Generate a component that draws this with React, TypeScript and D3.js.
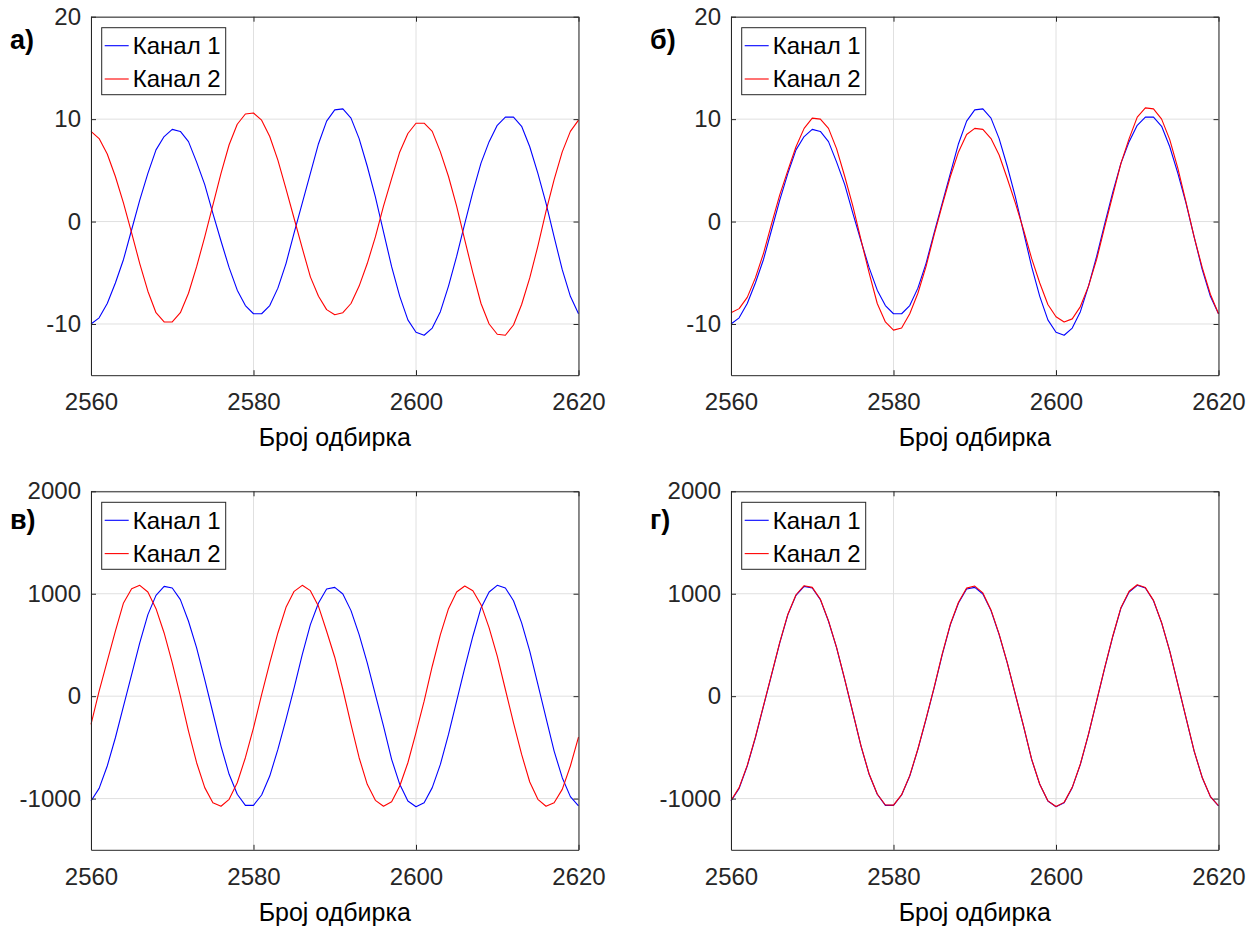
import * as d3 from "d3";
import { useEffect, useRef } from "react";

// sample index axis
const firstSample = 2560;
const lastSample = 2620;
const samples = d3.range(firstSample, lastSample + 1);
const xTicks = [2560, 2580, 2600, 2620];
const yTicksSmall = [-10, 0, 10, 20];
const yTicksLarge = [-1000, 0, 1000, 2000];
const seriesNames = ["Канал 1", "Канал 2"];
const seriesColors = ["#0000ff", "#ff0000"];
const xLabel = "Број одбирка";

// channel 1, panels а) and б)
const ch1Low = [
  -10.0, -9.4, -8.0, -6.0, -3.7, -0.8, 2.1, 4.7, 7.0, 8.3,
  9.0, 8.8, 7.8, 5.8, 3.6, 0.8, -1.9, -4.5, -6.7, -8.2,
  -9.0, -9.0, -8.2, -6.5, -4.1, -1.1, 1.8, 4.7, 7.6, 9.8,
  10.9, 11.0, 10.1, 8.1, 5.4, 2.4, -1.0, -4.4, -7.3, -9.6,
  -10.8, -11.1, -10.4, -8.8, -6.3, -3.4, -0.2, 2.9, 5.7, 7.8,
  9.4, 10.2, 10.2, 9.3, 7.3, 4.7, 1.8, -1.5, -4.7, -7.3, -9.0,
];

// channel 2, panel а)
const ch2Raw = [
  8.8, 8.1, 6.6, 4.4, 1.8, -1.1, -4.1, -6.8, -8.9, -9.8,
  -9.8, -8.9, -7.0, -4.4, -1.5, 1.6, 4.7, 7.5, 9.5, 10.5,
  10.6, 9.9, 8.3, 6.0, 3.2, 0.3, -2.6, -5.4, -7.3, -8.6,
  -9.1, -8.9, -8.0, -6.3, -4.1, -1.5, 1.5, 4.2, 6.8, 8.6,
  9.6, 9.6, 8.8, 6.8, 4.4, 1.5, -1.8, -5.0, -8.0, -10.0,
  -11.0, -11.1, -10.1, -8.1, -5.5, -2.4, 1.0, 4.1, 6.8, 8.8, 9.9,
];

// channel 2, panel б)
const ch2Aligned = [
  -8.9, -8.5, -7.4, -5.5, -3.1, -0.2, 2.6, 5.0, 7.3, 9.1,
  10.1, 10.0, 9.1, 7.1, 4.4, 1.5, -1.8, -5.0, -8.0, -9.8,
  -10.6, -10.4, -9.0, -7.0, -4.4, -1.3, 1.6, 4.4, 6.8, 8.5,
  9.1, 9.0, 8.1, 6.5, 4.2, 1.8, -0.8, -3.6, -6.0, -8.1,
  -9.3, -9.8, -9.5, -8.3, -6.3, -3.7, -0.5, 2.6, 5.7, 8.1,
  10.2, 11.1, 11.0, 10.0, 8.0, 5.2, 1.9, -1.5, -4.5, -7.1, -9.0,
];

// channel 1, panels в) and г)
const ch1High = [
  -1023, -900, -682, -406, -97, 211, 520, 796, 984, 1072,
  1056, 942, 731, 471, 162, -162, -487, -763, -958, -1066,
  -1066, -965, -780, -520, -227, 81, 406, 698, 910, 1046,
  1062, 997, 835, 601, 325, 16, -292, -617, -861, -1023,
  -1079, -1040, -893, -666, -374, -49, 276, 585, 861, 1017,
  1082, 1056, 932, 715, 439, 114, -211, -536, -796, -981, -1072,
];

// channel 2, panel в)
const ch2HighRaw = [
  -276, 49, 341, 634, 910, 1049, 1082, 1017, 854, 617,
  325, 0, -341, -650, -893, -1040, -1075, -1007, -845, -601,
  -309, 16, 325, 617, 867, 1023, 1082, 1030, 877, 634,
  380, 65, -276, -601, -861, -1017, -1075, -1030, -877, -650,
  -357, -49, 292, 601, 854, 1017, 1075, 1030, 893, 666,
  390, 65, -260, -569, -838, -1007, -1075, -1040, -910, -682, -400,
];

// channel 2, panel г)
const ch2HighAligned = [
  -1018, -893, -676, -400, -92, 216, 525, 800, 990, 1078,
  1062, 946, 735, 474, 164, -160, -485, -760, -955, -1063,
  -1064, -962, -776, -516, -222, 86, 412, 704, 917, 1055,
  1075, 1008, 842, 605, 328, 18, -290, -615, -860, -1022,
  -1077, -1037, -890, -662, -370, -45, 281, 590, 866, 1024,
  1088, 1060, 935, 717, 440, 115, -210, -535, -795, -980, -1070,
];

const panels = [
  { tag: "а)", series: [ch1Low, ch2Raw], yDomain: [-15, 20], yTicks: yTicksSmall, left: 91, top: 16.7, tagY: 49 },
  { tag: "б)", series: [ch1Low, ch2Aligned], yDomain: [-15, 20], yTicks: yTicksSmall, left: 731, top: 16.7, tagY: 49 },
  { tag: "в)", series: [ch1High, ch2HighRaw], yDomain: [-1500, 2000], yTicks: yTicksLarge, left: 91, top: 491.3, tagY: 529 },
  { tag: "г)", series: [ch1High, ch2HighAligned], yDomain: [-1500, 2000], yTicks: yTicksLarge, left: 731, top: 491.3, tagY: 529 },
];

const plotW = 487.5;
const plotH = 358.5;
const font = "'Liberation Sans', Arial, Helvetica, sans-serif";
const axisColor = "#262626";
const gridColor = "#e0e0e0";

export default function App() {
  const ref = useRef<SVGSVGElement>(null);

  useEffect(() => {
    const svg = d3.select(ref.current);
    svg.selectAll("*").remove();

    panels.forEach((p) => {
      const x = d3.scaleLinear().domain([firstSample, lastSample]).range([p.left, p.left + plotW]);
      const y = d3.scaleLinear().domain(p.yDomain).range([p.top + plotH, p.top]);
      const g = svg.append("g");

      // grid
      g.selectAll(".gx").data(xTicks).join("line")
        .attr("x1", (d) => x(d)).attr("x2", (d) => x(d))
        .attr("y1", p.top).attr("y2", p.top + plotH)
        .attr("stroke", gridColor).attr("stroke-width", 1);
      g.selectAll(".gy").data(p.yTicks).join("line")
        .attr("x1", p.left).attr("x2", p.left + plotW)
        .attr("y1", (d) => y(d)).attr("y2", (d) => y(d))
        .attr("stroke", gridColor).attr("stroke-width", 1);

      // signals
      const line = d3.line<number>().x((d, i) => x(samples[i])).y((d) => y(d));
      p.series.forEach((vals, k) => {
        g.append("path")
          .attr("d", line(vals))
          .attr("fill", "none")
          .attr("stroke", seriesColors[k])
          .attr("stroke-width", 1.1)
          .attr("stroke-linejoin", "round");
      });

      // axes, ticks pointing inward on all four sides
      const bottom = g.append("g").attr("transform", `translate(0,${p.top + plotH})`)
        .call(d3.axisBottom(x).tickValues(xTicks).tickSizeInner(-5).tickSizeOuter(0).tickPadding(18).tickFormat((d) => String(d)));
      const left = g.append("g").attr("transform", `translate(${p.left},0)`)
        .call(d3.axisLeft(y).tickValues(p.yTicks).tickSizeInner(-5).tickSizeOuter(0).tickPadding(10).tickFormat((d) => String(d)));
      const top = g.append("g").attr("transform", `translate(0,${p.top})`)
        .call(d3.axisTop(x).tickValues(xTicks).tickSizeInner(-5).tickSizeOuter(0).tickFormat(() => ""));
      const right = g.append("g").attr("transform", `translate(${p.left + plotW},0)`)
        .call(d3.axisRight(y).tickValues(p.yTicks).tickSizeInner(-5).tickSizeOuter(0).tickFormat(() => ""));

      [bottom, left, top, right].forEach((a) => {
        a.select(".domain").attr("stroke", axisColor).attr("stroke-width", 1);
        a.selectAll(".tick line").attr("stroke", axisColor);
        a.selectAll("text").attr("fill", axisColor).attr("font-family", font).attr("font-size", 24);
      });

      // x label
      g.append("text")
        .attr("x", p.left + plotW / 2)
        .attr("y", p.top + plotH + 71)
        .attr("text-anchor", "middle")
        .attr("font-family", font)
        .attr("font-size", 25)
        .attr("fill", "#000")
        .text(xLabel);

      // panel tag
      g.append("text")
        .attr("x", p.left - 81)
        .attr("y", p.tagY)
        .attr("font-family", font)
        .attr("font-size", 27)
        .attr("font-weight", "bold")
        .attr("fill", "#000")
        .text(p.tag);

      // legend
      const lx = p.left + 10.7;
      const ly = p.top + 11;
      const legend = g.append("g").attr("transform", `translate(${lx},${ly})`);
      legend.append("rect")
        .attr("width", 124).attr("height", 67)
        .attr("fill", "#fff").attr("stroke", axisColor).attr("stroke-width", 1);
      const row = legend.selectAll(".row").data(seriesNames).join("g")
        .attr("transform", (d, i) => `translate(0,${18 + i * 33.3})`);
      row.append("line")
        .attr("x1", 3).attr("x2", 27)
        .attr("stroke", (d, i) => seriesColors[i]).attr("stroke-width", 1.1);
      row.append("text")
        .attr("x", 31).attr("dy", "0.35em")
        .attr("font-family", font).attr("font-size", 24).attr("fill", "#000")
        .text((d) => d);
    });
  }, []);

  return (
    <svg
      ref={ref}
      width={1258}
      height={930}
      style={{ position: "absolute", left: 0, top: 0, background: "#fff" }}
    />
  );
}
